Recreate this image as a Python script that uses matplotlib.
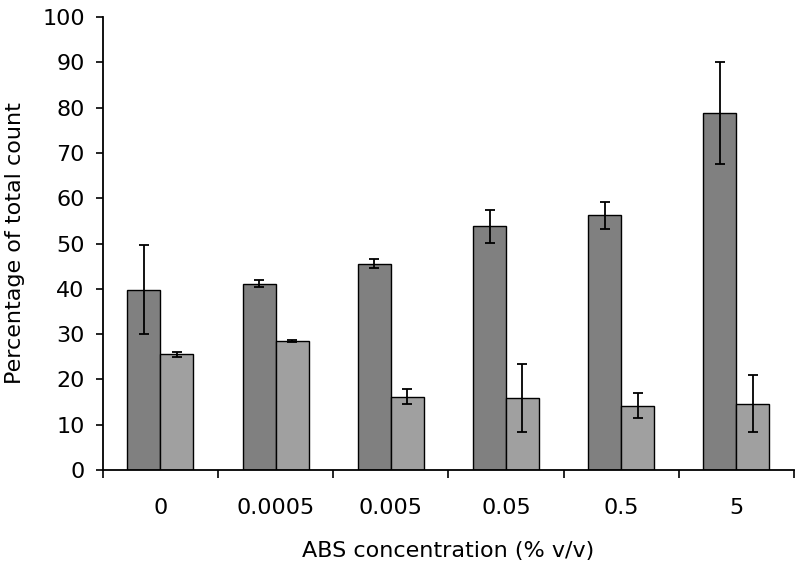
import matplotlib
matplotlib.use("Agg")
import matplotlib.pyplot as plt
import numpy as np

categories = ["0", "0.0005", "0.005", "0.05", "0.5", "5"]
dark_vals = [39.8, 41.1, 45.5, 53.8, 56.2, 78.8]
dark_err = [9.8, 0.8, 1.0, 3.7, 2.9, 11.2]
light_vals = [25.5, 28.5, 16.2, 15.9, 14.2, 14.6]
light_err = [0.6, 0.2, 1.7, 7.5, 2.8, 6.3]

plt.rcParams['font.family'] = ['DejaVu Sans']

fig = plt.figure(figsize=(8, 5.69), dpi=100)
ax = fig.add_axes([0.1285, 0.174, 0.864, 0.796])

x = np.arange(len(categories))
w = 0.286
ekw = dict(elinewidth=1.3, capsize=3.8, capthick=1.3, ecolor='black')
ax.bar(x - w/2, dark_vals, w, yerr=dark_err, color='#808080', edgecolor='black', linewidth=1.0, error_kw=ekw)
ax.bar(x + w/2, light_vals, w, yerr=light_err, color='#a0a0a0', edgecolor='black', linewidth=1.0, error_kw=ekw)

ax.set_xlim(-0.5, len(categories) - 0.5)
ax.set_ylim(0, 100)
ax.set_yticks(np.arange(0, 101, 10))
ax.tick_params(axis='y', labelsize=16, direction='out', length=5, width=1.2, pad=8)

ax.set_xticks(np.arange(-0.5, len(categories), 1.0))
ax.set_xticklabels([])
ax.tick_params(axis='x', which='major', direction='out', length=6, width=1.2)
ax.set_xticks(x, minor=True)
ax.set_xticklabels(categories, minor=True)
ax.tick_params(axis='x', which='minor', length=0, labelsize=16, pad=20)

ax.spines['top'].set_visible(False)
ax.spines['right'].set_visible(False)
ax.spines['left'].set_linewidth(1.3)
ax.spines['bottom'].set_linewidth(1.3)

ax.set_xlabel("ABS concentration (% v/v)", fontsize=16, labelpad=17)
ax.set_ylabel("Percentage of total count", fontsize=16, labelpad=12)

fig.savefig("out.png", dpi=100)
